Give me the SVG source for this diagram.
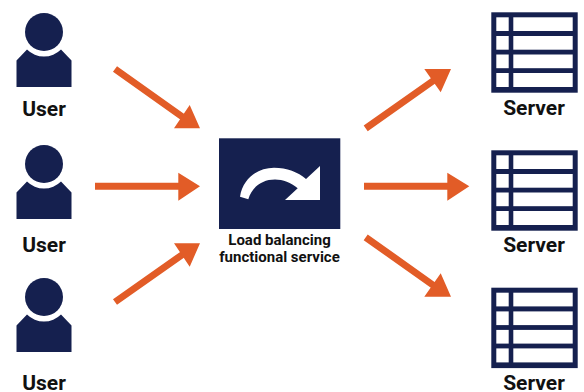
<svg xmlns="http://www.w3.org/2000/svg" width="584" height="392" viewBox="0 0 584 392">
<style>
.n{fill:#15204f}
.c{fill:#fff}
.a{fill:#e25c27}
.l{stroke:#e25c27;stroke-width:7;fill:none}
text{font-family:Roboto,"Liberation Sans",sans-serif;font-weight:700;fill:#111;text-anchor:middle}
.t{font-size:21px}
.s{font-size:15px}
</style>
<defs>
<g id="user">
<circle class="n" cx="44" cy="32" r="19"/>
<path class="n" d="M16.500 60.500L27 49.500A24 24 0 0 0 61 49.500L71.500 60.500V87H16.500Z"/>
</g>
<g id="server">
<rect class="n" x="491.300" y="12.300" width="86.400" height="80.400"/>
<g class="c">
<rect x="496.300" y="17.300" width="12.400" height="13.700"/><rect x="513.300" y="17.300" width="59.400" height="13.700"/>
<rect x="496.300" y="36" width="12.400" height="13.700"/><rect x="513.300" y="36" width="59.400" height="13.700"/>
<rect x="496.300" y="54.500" width="12.400" height="13.700"/><rect x="513.300" y="54.500" width="59.400" height="13.700"/>
<rect x="496.300" y="73" width="12.400" height="14"/><rect x="513.300" y="73" width="59.400" height="14"/>
</g>
</g>
</defs>
<g id="connectors">
<path class="l" d="M115 69L184 118M95 186.300H180M115 302L184 253.500M365.700 128.300L435 79.500M364 186.300H449M365.700 237.300L435 286.500"/>
<path class="a" d="M200 128.300H174L189.700 105ZM200 186.300L178.300 172.700V200.700ZM200 243.300H174L189.700 266.700ZM451 69H424.300L440.700 92.300ZM469.300 186.300L447.300 172.700V200.700ZM451 296.700H424.300L440.700 273.300Z"/>
</g>
<g id="user1"><use href="#user"/><text class="t" x="44" y="115.500">User</text></g>
<g id="user2"><use href="#user" y="132"/><text class="t" x="44" y="251.500">User</text></g>
<g id="user3"><use href="#user" y="265"/><text class="t" x="44" y="389.700">User</text></g>
<g id="balancer">
<rect class="n" x="219" y="138.300" width="121.300" height="90.700"/>
<path class="c" d="M240 196.700C243 178 258 167.700 274 167.700C287 167.700 298 172 306 179L320 166V200H285L297.700 188.300C291 182.500 283 179.500 275 179.500C262 179.500 252 187 248.300 199.300Z"/>
<text class="s" x="279.500" y="245">Load balancing</text>
<text class="s" x="279.500" y="262">functional service</text>
</g>
<g id="server1"><use href="#server"/><text class="t" x="534" y="114.500">Server</text></g>
<g id="server2"><use href="#server" y="138"/><text class="t" x="534" y="251.500">Server</text></g>
<g id="server3"><use href="#server" y="275.400"/><text class="t" x="534" y="390">Server</text></g>
</svg>
